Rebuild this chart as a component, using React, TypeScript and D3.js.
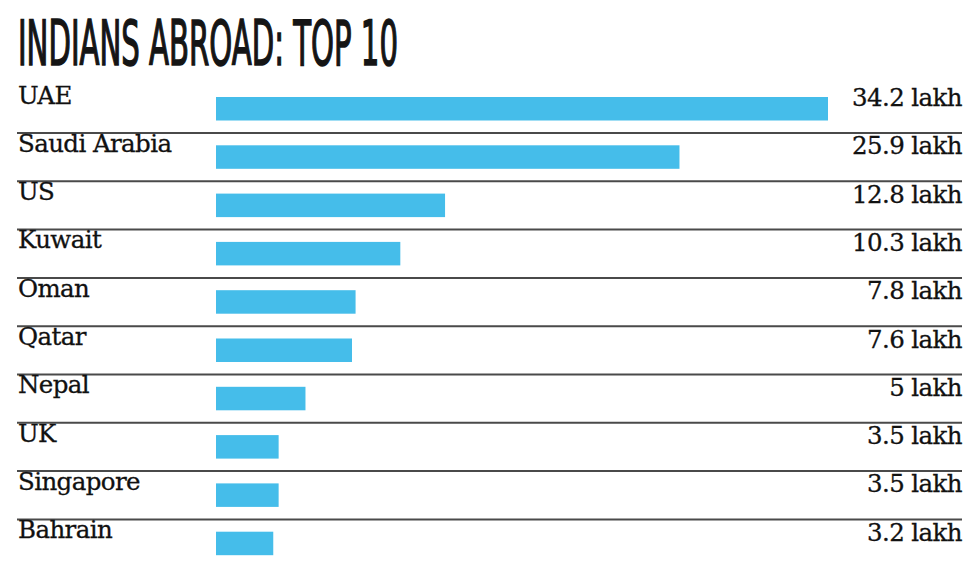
import React from "react";
import * as d3 from "d3";

const countries = ["UAE", "Saudi Arabia", "US", "Kuwait", "Oman", "Qatar", "Nepal", "UK", "Singapore", "Bahrain"];
const values = [34.2, 25.9, 12.8, 10.3, 7.8, 7.6, 5, 3.5, 3.5, 3.2];
const valueLabels = ["34.2 lakh", "25.9 lakh", "12.8 lakh", "10.3 lakh", "7.8 lakh", "7.6 lakh", "5 lakh", "3.5 lakh", "3.5 lakh", "3.2 lakh"];
const title = "INDIANS ABROAD: TOP 10";

const W = 980;
const H = 573;

export default function App() {
  const x = d3.scaleLinear().domain([0, 34.2]).range([216, 828]);
  const y = d3
    .scaleBand<number>()
    .domain(d3.range(countries.length))
    .range([85, 85 + 48.3 * countries.length])
    .paddingInner(0)
    .paddingOuter(0);
  const serif = "'DejaVu Serif', 'Liberation Serif', serif";

  return (
    <svg
      width={W}
      height={H}
      style={{ position: "absolute", left: 0, top: 0, background: "#fff" }}
    >
      <text
        x={18}
        y={65}
        fontFamily="'Liberation Sans Narrow', 'DejaVu Sans Condensed', 'Roboto', sans-serif"
        fontSize={63}
        fill="#151515"
        stroke="#151515"
        strokeWidth={1.6}
        textLength={380}
        lengthAdjust="spacingAndGlyphs"
      >
        {title}
      </text>
      {countries.map((c, i) => {
        const top = y(i)!;
        return (
          <g key={c}>
            <rect
              x={x(0)}
              y={top + 12}
              width={x(values[i]) - x(0)}
              height={23.5}
              fill="#45bdea"
            />
            <text
              x={18}
              y={top + 18.5}
              fontFamily={serif}
              fontSize={24.5}
              fill="#111"
              stroke="#111"
              strokeWidth={0.3}
              letterSpacing={-0.6}
            >
              {c}
            </text>
            <text
              x={962}
              y={top + 21}
              textAnchor="end"
              fontFamily={serif}
              fontSize={24.5}
              fill="#111"
              stroke="#111"
              strokeWidth={0.3}
              letterSpacing={-0.6}
            >
              {valueLabels[i]}
            </text>
            {i < countries.length - 1 && (
              <line
                x1={17}
                x2={962}
                y1={top + 48}
                y2={top + 48}
                stroke="#4a4a4a"
                strokeWidth={2}
              />
            )}
          </g>
        );
      })}
    </svg>
  );
}
